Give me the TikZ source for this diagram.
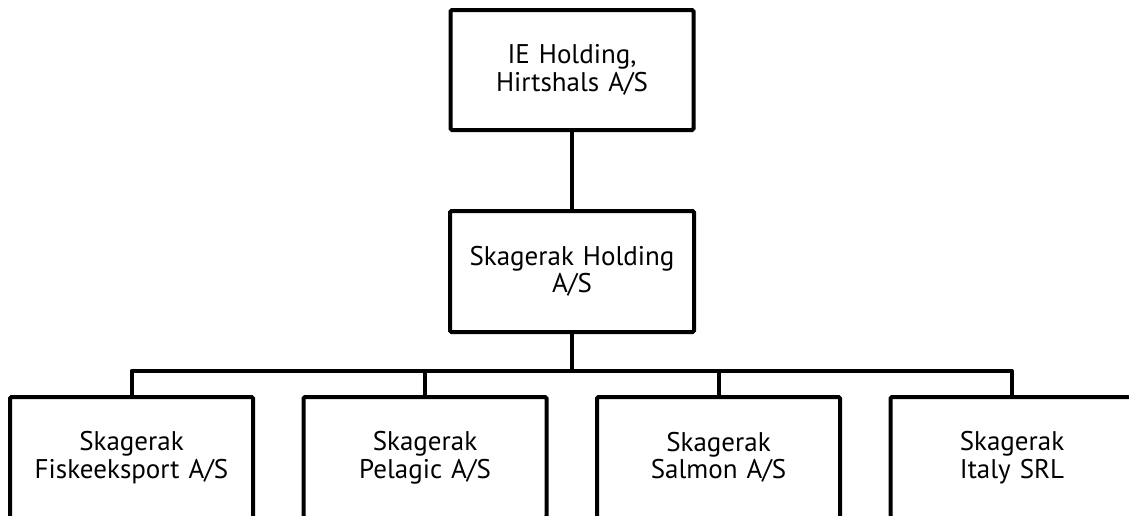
\documentclass[tikz,border=0pt]{standalone}
\usepackage{fontspec}
\setmainfont{PT Sans}
\usetikzlibrary{positioning}

\begin{document}
\begin{tikzpicture}[node distance=50.5pt,
  unit/.style={draw=black, line width=4pt, rounded corners=1.5pt, outer sep=0pt,
    minimum width=243pt, minimum height=121pt, text width=230pt, align=center,
    font=\fontsize{27}{27.5}\selectfont},
  link/.style={draw=black, line width=4pt, line join=round}]
\useasboundingbox (0,0) rectangle (1129pt,-515pt);
\node[unit, minimum height=120pt] (top) at (572pt,-70pt) {IE Holding,\\Hirtshals A/S};
\node[unit, minimum width=244pt, below=81pt of top.south, anchor=north] (mid) {Skagerak Holding\\A/S};
\node[unit] (c1) at (131.5pt,-457.5pt) {Skagerak\\Fiskeeksport A/S};
\node[unit, right=of c1] (c2) {Skagerak\\Pelagic A/S};
\node[unit, right=of c2] (c3) {Skagerak\\Salmon A/S};
\node[unit, right=of c3] (c4) {Skagerak\\Italy SRL};
\draw[link] (top) -- (mid);
\draw[link] (mid.south) -- ++(0,-39pt) coordinate (bus);
\draw[link] (c1.north) |- (bus) -| (c4.north);
\draw[link] (c2.north) -- (c2.north |- bus);
\draw[link] (c3.north) -- (c3.north |- bus);
\end{tikzpicture}
\end{document}
